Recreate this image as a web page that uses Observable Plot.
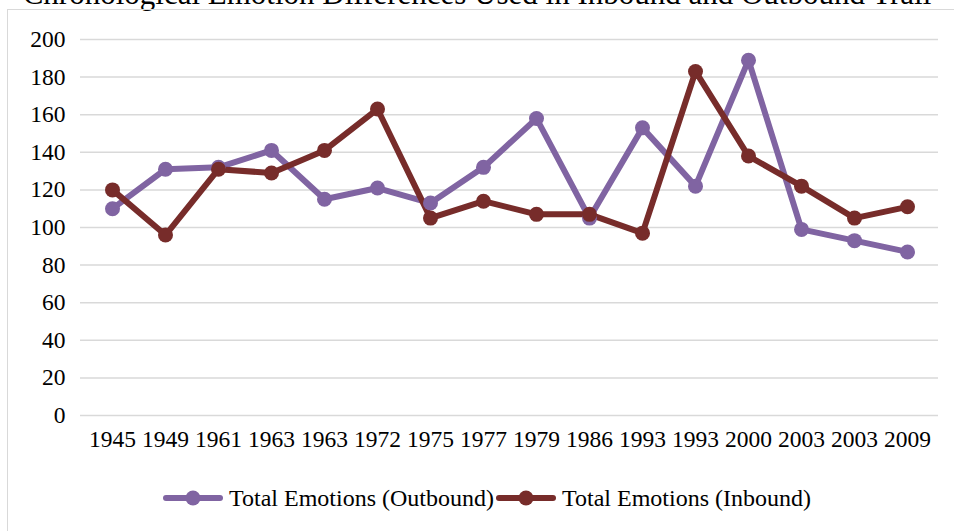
<!DOCTYPE html>
<html>
<head>
<meta charset="utf-8">
<script src="https://cdn.jsdelivr.net/npm/d3@7"></script>
<script src="https://cdn.jsdelivr.net/npm/@observablehq/plot@0.6"></script>
<style>
  html, body { margin: 0; padding: 0; background: #fff; overflow: hidden; }
  body { width: 954px; height: 531px; position: relative; }
  body, body * { font-family: "Liberation Serif", "Times New Roman", "DejaVu Serif", serif !important; }
  #title { position: absolute; top: -23px; left: -60px; width: 1074px; text-align: center; white-space: nowrap; font-size: 31px; line-height: 34px; color: #000; }
  #frame { position: absolute; left: 7px; top: 9px; width: 960px; height: 540px; border: 1.5px solid #d9d9d9; box-sizing: border-box; }
  #chart { position: absolute; left: 0; top: 0; }
  #chart svg text { font-size: 23.5px !important; fill: #000; }
  #legend { position: absolute; top: 484px; left: 0; width: 954px; display: flex; justify-content: center; gap: 2px; font-size: 24px; line-height: 28px; color: #000; padding-left: 20px; box-sizing: border-box; }
  .item { display: flex; align-items: center; gap: 6px; }
</style>
</head>
<body>
<div id="title">Chronological Emotion Differences Used in Inbound and Outbound Trail</div>
<div id="frame"></div>
<div id="chart"></div>
<div id="legend"></div>
<script>
const years = ["1945","1949","1961","1963","1963","1972","1975","1977","1979","1986","1993","1993","2000","2003","2003","2009"];
const outbound = [110, 131, 132, 141, 115, 121, 113, 132, 158, 105, 153, 122, 189, 99, 93, 87];
const inbound = [120, 96, 131, 129, 141, 163, 105, 114, 107, 107, 97, 183, 138, 122, 105, 111];
const yTicks = [0, 20, 40, 60, 80, 100, 120, 140, 160, 180, 200];
const seriesNames = ["Total Emotions (Outbound)", "Total Emotions (Inbound)"];
const colors = ["#8064A2", "#772C2A"];

const rows = [];
years.forEach((y, i) => {
  rows.push({i, year: y, value: outbound[i], series: seriesNames[0]});
});
years.forEach((y, i) => {
  rows.push({i, year: y, value: inbound[i], series: seriesNames[1]});
});

const chart = Plot.plot({
  width: 954,
  height: 460,
  marginTop: 39,
  marginBottom: 45,
  marginLeft: 80,
  marginRight: 16,
  style: { fontSize: "23.5px", color: "#000", background: "transparent", overflow: "visible" },
  x: { type: "point", domain: years.map((_, i) => i), padding: 0.5, label: null, tickFormat: i => years[i], tickSize: 0, tickPadding: 14 },
  y: { domain: [0, 200], ticks: yTicks, label: null, tickSize: 0, tickPadding: 16 },
  color: { domain: seriesNames, range: colors },
  marks: [
    Plot.gridY(yTicks, { stroke: "#d9d9d9", strokeOpacity: 1, strokeWidth: 1.5 }),
    Plot.axisY({ ticks: yTicks, tickSize: 0, tickPadding: 15, fontSize: 23.5 }),
    Plot.axisX({ tickSize: 0, tickPadding: 15, fontSize: 23.5, tickFormat: i => years[i] }),
    Plot.line(rows, { x: "i", y: "value", stroke: "series", z: "series", strokeWidth: 6, strokeLinejoin: "round", strokeLinecap: "round" }),
    Plot.dot(rows, { x: "i", y: "value", fill: "series", r: 7.5, stroke: null })
  ]
});
document.getElementById("chart").appendChild(chart);

const legend = document.getElementById("legend");
seriesNames.forEach((name, k) => {
  const item = document.createElement("div");
  item.className = "item";
  item.innerHTML = `<svg width="60" height="20"><line x1="3" y1="10" x2="57" y2="10" stroke="${colors[k]}" stroke-width="6" stroke-linecap="round"/><circle cx="30" cy="10" r="7.5" fill="${colors[k]}"/></svg><span>${name}</span>`;
  legend.appendChild(item);
});
</script>
</body>
</html>
